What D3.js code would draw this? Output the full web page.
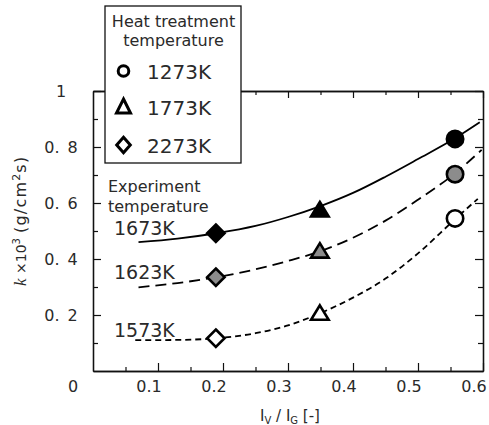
<!DOCTYPE html>
<html><head><meta charset="utf-8">
<script src="https://cdn.jsdelivr.net/npm/d3@7"></script>
<style>body{margin:0;background:#fff}svg{display:block}</style>
</head><body><svg id="c" width="489" height="425"></svg>
<script>
// ---- data ----
const xMajor = [0.1, 0.2, 0.3, 0.4, 0.5, 0.6];
const xMajorLabels = ["0.1", "0.2", "0.3", "0.4", "0.5", "0.6"];
const xMinor = [0.05, 0.15, 0.25, 0.35, 0.45, 0.55];
const yMajor = [0.2, 0.4, 0.6, 0.8, 1.0];
const yMajorLabels = ["0. 2", "0. 4", "0. 6", "0. 8", "1"];
const yMinor = [0.1, 0.3, 0.5, 0.7, 0.9];
const originLabel = "0";

const heatTemps = ["1273K", "1773K", "2273K"];
const heatShapes = ["circle", "triangle", "diamond"];
const heatX = [0.557, 0.349, 0.189];           // I_V/I_G of each heat treatment

const expTemps = ["1673K", "1623K", "1573K"];
const expFills = ["#000000", "#8c8c8c", "#ffffff"];
const expDash = ["none", "11,6", "6,4"];
const k1673 = [0.829, 0.575, 0.492];          // circle, triangle, diamond
const k1623 = [0.703, 0.428, 0.335];
const k1573 = [0.545, 0.206, 0.117];

const fit1673X = [0.070, 0.13, 0.19, 0.25, 0.30, 0.35, 0.40, 0.45, 0.50, 0.557, 0.595];
const fit1673Y = [0.460, 0.473, 0.492, 0.518, 0.550, 0.589, 0.636, 0.694, 0.757, 0.831, 0.888];
const fit1623X = [0.070, 0.13, 0.19, 0.25, 0.30, 0.35, 0.40, 0.45, 0.50, 0.557, 0.598];
const fit1623Y = [0.299, 0.314, 0.335, 0.363, 0.393, 0.428, 0.476, 0.537, 0.612, 0.706, 0.790];
const fit1573X = [0.065, 0.13, 0.19, 0.25, 0.30, 0.35, 0.40, 0.45, 0.50, 0.557, 0.592];
const fit1573Y = [0.110, 0.111, 0.117, 0.135, 0.163, 0.207, 0.262, 0.330, 0.420, 0.542, 0.615];

const legendTitle = ["Heat treatment", "temperature"];
const annotTitle = ["Experiment", "temperature"];

// ---- drawing ----
const svg = d3.select("#c");
const x = d3.scaleLinear().domain([0, 0.6]).range([93, 483]);
const y = d3.scaleLinear().domain([0, 1]).range([371, 91]);
const FONT = "'DejaVu Sans', sans-serif";
const TXT = "#2a2a2a";

// fitted curves
const fitsX = [fit1673X, fit1623X, fit1573X];
const fitsY = [fit1673Y, fit1623Y, fit1573Y];
const line = d3.line().x(d => x(d[0])).y(d => y(d[1])).curve(d3.curveMonotoneX);
fitsX.forEach((xs, i) => {
  svg.append("path")
    .attr("d", line(xs.map((v, j) => [v, fitsY[i][j]])))
    .attr("fill", "none").attr("stroke", "#000").attr("stroke-width", 1.8)
    .attr("stroke-dasharray", expDash[i]);
});

// frame + ticks with d3 axes
function styleAxis(g) {
  g.select(".domain").attr("stroke", "#111").attr("stroke-width", 1.3);
  g.selectAll(".tick line").attr("stroke", "#111").attr("stroke-width", 1.2);
  g.selectAll("text").remove();
}
svg.append("g").attr("transform", `translate(0,${y(0)})`)
  .call(d3.axisBottom(x).tickValues(xMajor).tickSize(-8).tickSizeOuter(0)).call(styleAxis);
svg.append("g").attr("transform", `translate(0,${y(0)})`)
  .call(d3.axisBottom(x).tickValues(xMinor).tickSize(-4).tickSizeOuter(0)).call(styleAxis);
svg.append("g").attr("transform", `translate(0,${y(1)})`)
  .call(d3.axisTop(x).tickValues(xMajor).tickSize(-7).tickSizeOuter(0)).call(styleAxis);
svg.append("g").attr("transform", `translate(0,${y(1)})`)
  .call(d3.axisTop(x).tickValues(xMinor).tickSize(-4).tickSizeOuter(0)).call(styleAxis);
svg.append("g").attr("transform", `translate(${x(0)},0)`)
  .call(d3.axisLeft(y).tickValues(yMajor).tickSize(-8).tickSizeOuter(0)).call(styleAxis);
svg.append("g").attr("transform", `translate(${x(0)},0)`)
  .call(d3.axisLeft(y).tickValues(yMinor).tickSize(-5).tickSizeOuter(0)).call(styleAxis);
svg.append("g").attr("transform", `translate(${x(0.6)},0)`)
  .call(d3.axisRight(y).tickValues(yMajor).tickSize(-8).tickSizeOuter(0)).call(styleAxis);
svg.append("g").attr("transform", `translate(${x(0.6)},0)`)
  .call(d3.axisRight(y).tickValues(yMinor).tickSize(-5).tickSizeOuter(0)).call(styleAxis);

// tick labels
svg.append("g").selectAll("text").data(xMajor).join("text")
  .attr("x", d => x(d) - 9).attr("y", y(0) + 21)
  .attr("text-anchor", "middle").attr("font-family", FONT).attr("font-size", 16).attr("fill", TXT)
  .text((d, i) => xMajorLabels[i]);
svg.append("g").selectAll("text").data(yMajor).join("text")
  .attr("x", 61).attr("y", d => y(d) + 6)
  .attr("text-anchor", "middle").attr("font-family", FONT).attr("font-size", 16).attr("fill", TXT)
  .attr("word-spacing", 3)
  .text((d, i) => yMajorLabels[i]);
svg.append("text").attr("x", 73).attr("y", y(0) + 21).attr("text-anchor", "middle")
  .attr("font-family", FONT).attr("font-size", 16).attr("fill", TXT).text(originLabel);

// axis titles
const xt = svg.append("text").attr("x", 290).attr("y", 421).attr("text-anchor", "middle")
  .attr("font-family", FONT).attr("font-size", 15).attr("fill", TXT);
xt.append("tspan").text("I");
xt.append("tspan").attr("font-size", 10).attr("dy", 3).text("V");
xt.append("tspan").attr("dy", -3).text(" / I");
xt.append("tspan").attr("font-size", 10).attr("dy", 3).text("G");
xt.append("tspan").attr("dy", -3).text(" [-]");

const yt = svg.append("g").attr("transform", "translate(26,0) rotate(-90)");
yt.append("text").attr("x", -286).attr("y", 0)
  .attr("font-family", "'Liberation Serif', serif").attr("font-style", "italic").attr("font-size", 17)
  .attr("fill", TXT).text("k");
const yt2 = yt.append("text").attr("x", -274).attr("y", 0)
  .attr("font-family", FONT).attr("font-size", 14).attr("fill", TXT);
yt2.append("tspan").text("×10");
yt2.append("tspan").attr("font-size", 10).attr("dy", -6).text("3");
const yt3 = yt.append("text").attr("x", -233).attr("y", 0)
  .attr("font-family", FONT).attr("font-size", 16).attr("letter-spacing", 1.2).attr("fill", TXT);
yt3.append("tspan").text("(g/cm");
yt3.append("tspan").attr("font-size", 11).attr("dy", -6).text("2");
yt3.append("tspan").attr("dy", 6).text("s)");

// marker shapes
function shapePath(shape, s) {
  if (shape === "circle") return d3.symbol(d3.symbolCircle, Math.PI * s.r * s.r)();
  if (shape === "triangle") return `M0,${-s.t}L${s.w},${s.b}L${-s.w},${s.b}Z`;
  return `M0,${-s.dy}L${s.dx},0L0,${s.dy}L${-s.dx},0Z`;
}
const plotSize = {r: 8.2, t: 8, b: 6.5, w: 8.8, dx: 8.7, dy: 8.7};
const series = [k1673, k1623, k1573];
series.forEach((vals, i) => {
  vals.forEach((v, j) => {
    svg.append("path").attr("d", shapePath(heatShapes[j], plotSize))
      .attr("transform", `translate(${x(heatX[j])},${y(v)})`)
      .attr("fill", expFills[i]).attr("stroke", "#000").attr("stroke-width", 2.6)
      .attr("stroke-linejoin", "miter");
  });
});

// annotations
annotTitle.forEach((t, i) => {
  svg.append("text").attr("x", 108).attr("y", 191.5 + i * 20)
    .attr("font-family", FONT).attr("font-size", 16).attr("fill", TXT).text(t);
});
const expLabelY = [235, 278.5, 336.5];
expTemps.forEach((t, i) => {
  svg.append("text").attr("x", 114).attr("y", expLabelY[i])
    .attr("font-family", FONT).attr("font-size", 19).attr("fill", TXT).text(t);
});

// legend box
svg.append("rect").attr("x", 105).attr("y", 6).attr("width", 136).attr("height", 157)
  .attr("fill", "#fff").attr("stroke", "#111").attr("stroke-width", 1.3);
legendTitle.forEach((t, i) => {
  svg.append("text").attr("x", 173.5).attr("y", 26.5 + i * 19.5).attr("text-anchor", "middle")
    .attr("font-family", FONT).attr("font-size", 16).attr("fill", TXT).text(t);
});
const legSize = {r: 5.3, t: 8, b: 6, w: 7, dx: 6.8, dy: 7.8};
const legY = [71, 107, 145];
heatTemps.forEach((t, i) => {
  svg.append("path").attr("d", shapePath(heatShapes[i], legSize))
    .attr("transform", `translate(${123.5},${legY[i]})`)
    .attr("fill", "#fff").attr("stroke", "#000").attr("stroke-width", 3);
  svg.append("text").attr("x", 147).attr("y", legY[i] + 7.5)
    .attr("font-family", FONT).attr("font-size", 20).attr("fill", TXT).text(t);
});
</script></body></html>
